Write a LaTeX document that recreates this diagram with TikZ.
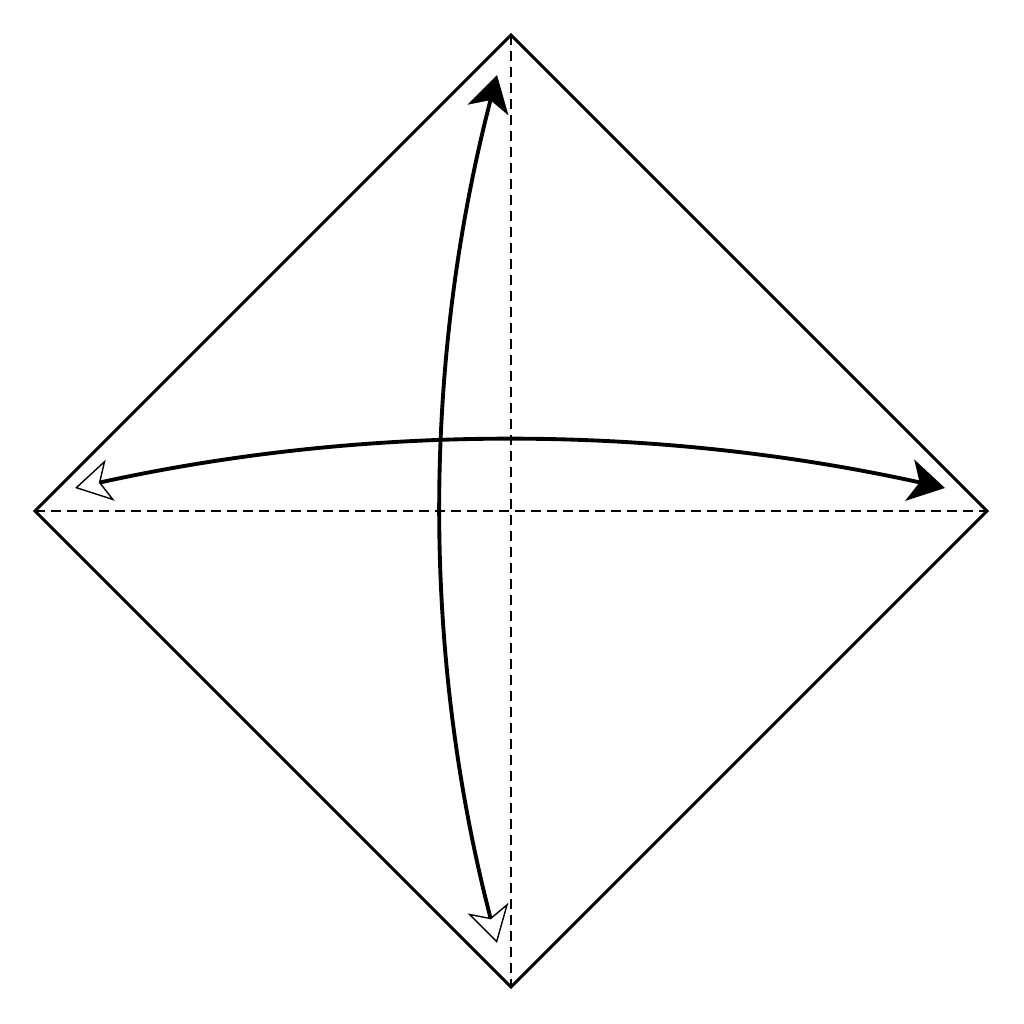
\documentclass[tikz,border=0pt]{standalone}
\usetikzlibrary{arrows.meta}
\begin{document}
\begin{tikzpicture}[edge/.style={line width=0.85pt},
  crease/.style={dash pattern=on 1mm off 0.6mm, line width=0.7pt},
  fold/.style={line width=1.1pt,
    {Stealth[open,fill=white,length=3.6mm,width=4.2mm,inset=1mm,line width=0.4pt]}-{Stealth[length=3.6mm,width=4.2mm,inset=1mm]}}]
  \useasboundingbox (0,0) rectangle (10.24,10.24);
  \coordinate (top) at (5.11,9.89);
  \coordinate (right) at (9.87,5.13);
  \coordinate (bottom) at (5.11,0.37);
  \coordinate (left) at (0.35,5.13);

  % creases
  \draw[crease] (top) -- (bottom);
  \draw[crease] (left) -- (right);
  \draw[edge] (top) -- (right) -- (bottom) -- (left) -- cycle;

  % fold arrows
  \coordinate (h1) at (0.75,5.36);
  \coordinate (h2) at (9.45,5.36);
  \draw[fold] (h1) .. controls (3.65,6.00) and (6.55,6.00) .. (h2);
  \coordinate (v1) at (4.97,0.81);
  \coordinate (v2) at (4.97,9.49);
  \draw[fold] (v1) .. controls (4.22,3.70) and (4.22,6.60) .. (v2);
\end{tikzpicture}
\end{document}
